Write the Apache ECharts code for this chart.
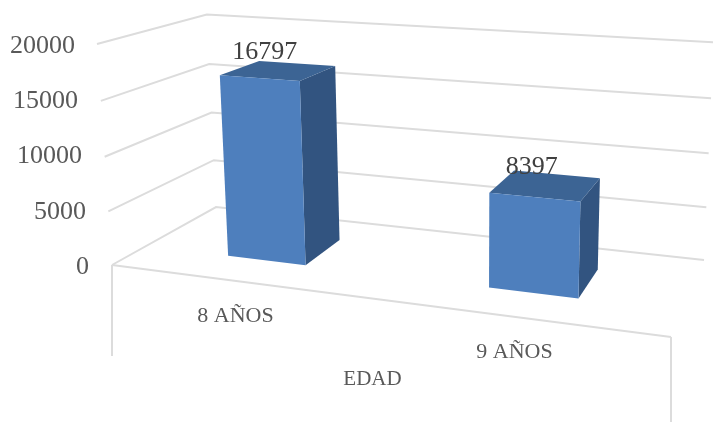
<!DOCTYPE html>
<html><head><meta charset="utf-8">
<style>html,body{margin:0;padding:0;background:#fff}#c{width:713px;height:422px}</style>
<script src="https://cdn.jsdelivr.net/npm/echarts@6/dist/echarts.min.js"></script>
</head><body><div id="c"></div>
<script>
const categories = ['8 AÑOS', '9 AÑOS'];
const values = [16797, 8397];
const yTicks = [0, 5000, 10000, 15000, 20000];
const axisName = 'EDAD';

const G = {left: 96, top: 46, width: 558, height: 221};
const FONT = '"Liberation Serif", serif';
const GRID_LINE = {stroke: '#dcdcdc', lineWidth: 2, fill: null};
const BAR = {halfW: 0.078, z0: 0.30, z1: 0.70, front: '#4e7fbd', top: '#3c6494', side: '#325480'};

// Perspective camera: (u along x axis, v along y axis, z depth) -> pixel
function project(u, v, z) {
  const d = -0.1401 * u - 0.04 * v + 0.155 * z + 1;
  return [
    (465 * u - 18.9 * v + 137.5 * z + 112) / d,
    (24.8 * u - 222.8 * v - 25.9 * z + 265) / d
  ];
}
// axis pixel -> normalised plot fractions, so every mark goes through the axes' scales
function uvOf(api, cat, val) {
  const p = api.coord([cat, val]);
  return [(p[0] - G.left) / G.width, (G.top + G.height - p[1]) / G.height];
}
const poly = (pts, fill) => ({type: 'polygon', shape: {points: pts}, style: {fill: fill}});
const line = pts => ({type: 'polyline', shape: {points: pts}, style: GRID_LINE});

function renderWall(params, api) {
  const v = uvOf(api, 0, api.value(1))[1];
  return line([project(0, v, 0), project(0, v, 1), project(1, v, 1)]);
}
function renderFloor(params, api) {
  const a = project(0, 0, 0), b = project(1, 0, 0);
  return {type: 'group', children: [
    line([a, b]),
    line([a, [a[0], a[1] + 91]]),
    line([b, [b[0], b[1] + 91]])
  ]};
}
function renderBar(params, api) {
  const [uc, v] = uvOf(api, api.value(0), api.value(1));
  const u0 = uc - BAR.halfW, u1 = uc + BAR.halfW, z0 = BAR.z0, z1 = BAR.z1;
  const P = (u, vv, z) => project(u, vv, z);
  const topC = P(uc, v, (z0 + z1) / 2);
  return {type: 'group', children: [
    poly([P(u1, 0, z0), P(u1, 0, z1), P(u1, v, z1), P(u1, v, z0)], BAR.side),
    poly([P(u0, v, z0), P(u1, v, z0), P(u1, v, z1), P(u0, v, z1)], BAR.top),
    poly([P(u0, 0, z0), P(u1, 0, z0), P(u1, v, z0), P(u0, v, z0)], BAR.front),
    {type: 'text', z2: 10, style: {
      text: String(api.value(1)), x: topC[0] - 14, y: topC[1] - 18,
      align: 'center', verticalAlign: 'middle',
      font: '26px ' + FONT, fill: '#404040'
    }}
  ]};
}

const chart = echarts.init(document.getElementById('c'), null, {renderer: 'canvas'});
chart.setOption({
  animation: false,
  backgroundColor: '#fff',
  grid: {left: G.left, top: G.top, width: G.width, height: G.height, containLabel: false},
  xAxis: {
    type: 'category', data: categories,
    axisLine: {show: false}, axisTick: {show: false}, splitLine: {show: false},
    name: axisName, nameLocation: 'middle', nameGap: 102, nameMoveOverlap: false,
    nameTextStyle: {fontFamily: FONT, fontSize: 21, color: '#595959', padding: [0, 5, 0, 0]},
    axisLabel: {
      margin: 36, interval: 0, verticalAlign: 'top',
      formatter: (v, i) => '{c' + i + '|' + v + '}',
      rich: {
        c0: {fontFamily: FONT, fontSize: 22, color: '#595959', lineHeight: 26},
        c1: {fontFamily: FONT, fontSize: 22, color: '#595959', lineHeight: 26, padding: [72, 0, 0, 0]}
      }
    }
  },
  yAxis: {
    type: 'value', min: 0, max: 20000, interval: 5000,
    axisLine: {show: false}, axisTick: {show: false}, splitLine: {show: false},
    axisLabel: {
      margin: 7,
      formatter: v => '{t' + v + '|' + v + '}',
      rich: {
        t0: {fontFamily: FONT, fontSize: 26, color: '#595959'},
        t5000: {fontFamily: FONT, fontSize: 26, color: '#595959', padding: [0, 3, 0, 0]},
        t10000: {fontFamily: FONT, fontSize: 26, color: '#595959', padding: [0, 7, 0, 0]},
        t15000: {fontFamily: FONT, fontSize: 26, color: '#595959', padding: [0, 11, 0, 0]},
        t20000: {fontFamily: FONT, fontSize: 26, color: '#595959', padding: [0, 14, 0, 0]}
      }
    }
  },
  series: [
    {type: 'custom', name: 'walls', silent: true, clip: false, z: 1,
     renderItem: renderWall, data: yTicks.map(t => [0, t])},
    {type: 'custom', name: 'floor', silent: true, clip: false, z: 1,
     renderItem: renderFloor, data: [[0, 0]]},
    {type: 'custom', name: 'EDAD', silent: true, clip: false, z: 2,
     renderItem: renderBar, data: values.map((v, i) => [i, v])}
  ]
});
</script></body></html>
